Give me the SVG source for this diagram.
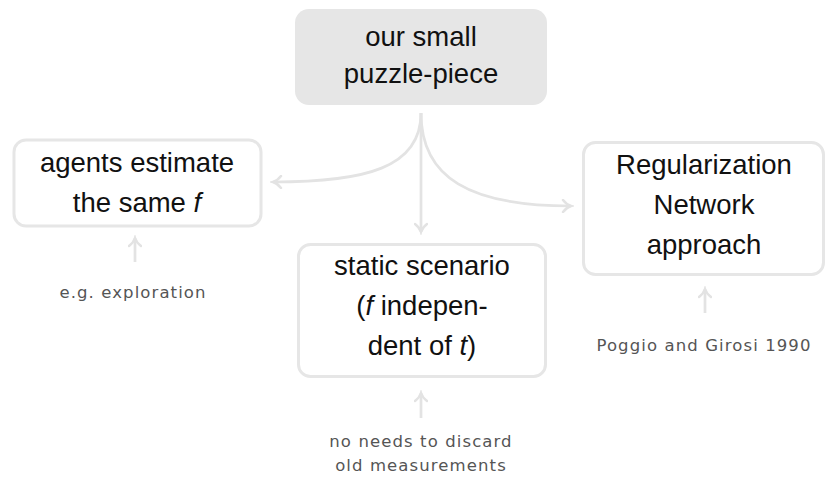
<svg xmlns="http://www.w3.org/2000/svg" width="826" height="482" viewBox="0 0 826 482">
<style>
.box{fill:#ffffff;stroke:#e6e6e6;stroke-width:3}
.main{fill:#e6e6e6;stroke:none}
.t{font-family:"Liberation Sans",Arial,sans-serif;font-size:27.5px;fill:#111;text-anchor:middle}
.it{font-style:italic}
.s{font-family:"DejaVu Sans",Verdana,sans-serif;font-size:16.5px;fill:#555;text-anchor:middle;letter-spacing:1.1px}
.c{fill:none;stroke:#e3e3e3;stroke-width:2.7;marker-end:url(#ah)}
</style>
<defs>
<marker id="ah" viewBox="0 0 14 14" refX="11" refY="7" markerWidth="14" markerHeight="14" markerUnits="userSpaceOnUse" orient="auto">
<path d="M3,1 Q6.5,5.6 11,7 Q6.5,8.4 3,13" fill="none" stroke="#e3e3e3" stroke-width="2.5" stroke-linecap="round"/>
</marker>
</defs>
<g id="connectors">
<path class="c" d="M421,113 C421,168 365,182 273,182"/>
<path class="c" d="M421,113 L421,232"/>
<path class="c" d="M421,113 C421,178 470,206 571,206"/>
<path class="c" d="M135,262 L135,238"/>
<path class="c" d="M705,313 L705,289"/>
<path class="c" d="M421,418 L421,393"/>
</g>
<g id="puzzle">
<rect class="main" x="295" y="9" width="252" height="96" rx="14"/>
<text class="t" x="421" y="46">our small</text>
<text class="t" x="421" y="83">puzzle-piece</text>
</g>
<g id="agents">
<rect class="box" x="14" y="140" width="247" height="86" rx="12"/>
<text class="t" x="137" y="172">agents estimate</text>
<text class="t" x="137" y="212">the same <tspan class="it">f</tspan></text>
</g>
<g id="regularization">
<rect class="box" x="583.5" y="142.5" width="240" height="132" rx="12"/>
<text class="t" x="704" y="174">Regularization</text>
<text class="t" x="704" y="214">Network</text>
<text class="t" x="704" y="254">approach</text>
</g>
<g id="static">
<rect class="box" x="298.5" y="244.5" width="247" height="132" rx="12"/>
<text class="t" x="422" y="275">static scenario</text>
<text class="t" x="422" y="315">(<tspan class="it">f</tspan> indepen-</text>
<text class="t" x="422" y="355">dent of <tspan class="it">t</tspan>)</text>
</g>
<g id="note-exploration">
<text class="s" x="133" y="298">e.g. exploration</text>
</g>
<g id="note-poggio">
<text class="s" x="704" y="351">Poggio and Girosi 1990</text>
</g>
<g id="note-discard">
<text class="s" x="421" y="447">no needs to discard</text>
<text class="s" x="421" y="471">old measurements</text>
</g>
</svg>
